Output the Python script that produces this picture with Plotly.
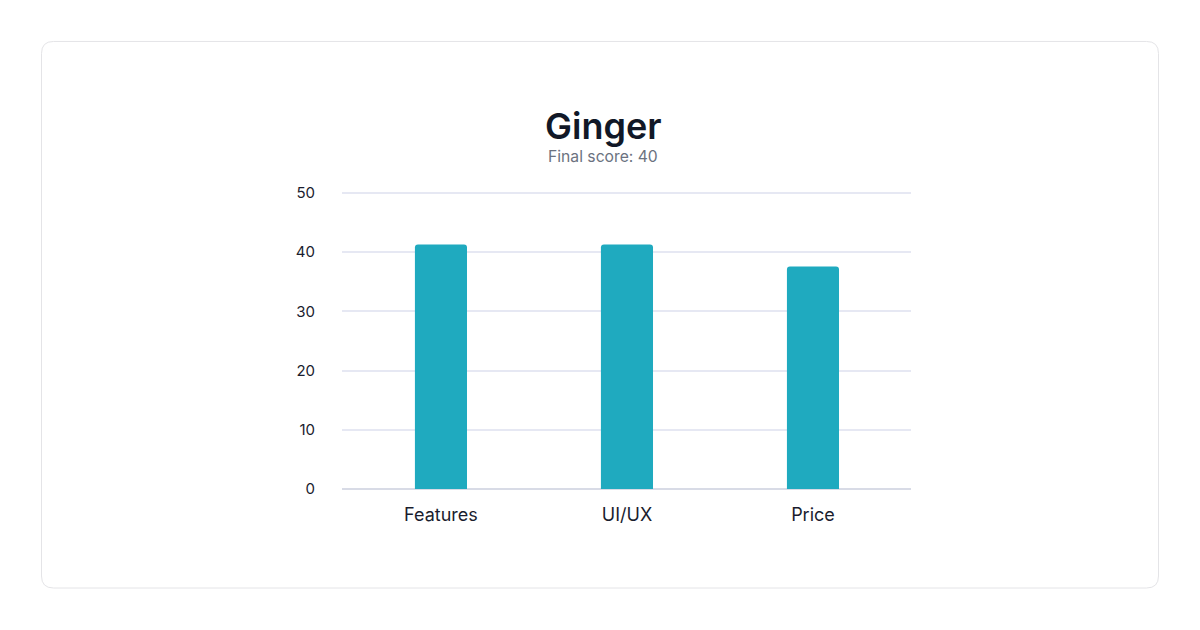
import plotly.graph_objects as go

categories = ["Features", "UI/UX", "Price"]
scores = [41.3, 41.3, 37.6]
title_text = "Ginger"
subtitle_text = "Final score: 40"
y_ticks = [0, 10, 20, 30, 40, 50]

OFF = 8  # page body margin offset
Y_TOP = 50.5
PX_PER_UNIT = (489 - 193) / 50
W, H = 1200 - OFF, 630 - OFF
L, R = 342 - OFF, 911 - OFF
B = 489 - OFF
T = 489 - Y_TOP * PX_PER_UNIT - OFF  # plot area pixels (figure coords)


def px_x(p):
    return (p - OFF - L) / (R - L)


def px_y(p):
    return (B - (p - OFF)) / (B - T)


fig = go.Figure()
fig.add_trace(go.Bar(
    x=categories, y=scores, width=0.28,
    marker=dict(color="#1faabf", cornerradius=3, line=dict(width=0)),
    hoverinfo="x+y",
))

# card outline (rounded rect), in page pixel coords
x0, x1, y0, y1, r = 41.5, 1158.5, 41.5, 588, 12
path = (
    f"M {px_x(x0 + r)},{px_y(y0)} L {px_x(x1 - r)},{px_y(y0)} "
    f"Q {px_x(x1)},{px_y(y0)} {px_x(x1)},{px_y(y0 + r)} "
    f"L {px_x(x1)},{px_y(y1 - r)} Q {px_x(x1)},{px_y(y1)} {px_x(x1 - r)},{px_y(y1)} "
    f"L {px_x(x0 + r)},{px_y(y1)} Q {px_x(x0)},{px_y(y1)} {px_x(x0)},{px_y(y1 - r)} "
    f"L {px_x(x0)},{px_y(y0 + r)} Q {px_x(x0)},{px_y(y0)} {px_x(x0 + r)},{px_y(y0)} Z"
)

fig.update_layout(
    width=W, height=H,
    margin=dict(l=L, r=W - R, t=T, b=H - B, pad=0),
    paper_bgcolor="white", plot_bgcolor="white",
    font=dict(family="Inter, sans-serif", color="#1a1d2e"),
    showlegend=False,
    shapes=[dict(type="path", path=path, xref="paper", yref="paper",
                 line=dict(color="#e4e4e7", width=1), fillcolor="rgba(0,0,0,0)",
                 layer="below")],
    annotations=[
        dict(text=title_text, x=px_x(603), y=px_y(126), xref="paper", yref="paper",
             showarrow=False,
             font=dict(size=36, color="#111827", family="Inter, sans-serif", weight=600),
             xanchor="center", yanchor="middle"),
        dict(text=subtitle_text, x=px_x(603), y=px_y(157), xref="paper", yref="paper",
             showarrow=False, font=dict(size=15.7, color="#6b7280", family="Inter, sans-serif"),
             xanchor="center", yanchor="middle"),
    ],
    xaxis=dict(
        range=[-0.532, 2.527], showgrid=False, zeroline=False, showline=False,
        ticks="", tickfont=dict(size=18, color="#1a1d2e"), ticklabelstandoff=13,
        fixedrange=True,
    ),
    yaxis=dict(
        range=[0, Y_TOP], tickvals=y_ticks, showgrid=True, gridcolor="#e6e8f3", gridwidth=1.6,
        zeroline=True, zerolinecolor="#d8dbe6", zerolinewidth=1.5, showline=False,
        ticks="", tickfont=dict(size=15, color="#1a1d2e"), ticklabelstandoff=26,
        fixedrange=True,
    ),
)

fig.write_html("out.html")
